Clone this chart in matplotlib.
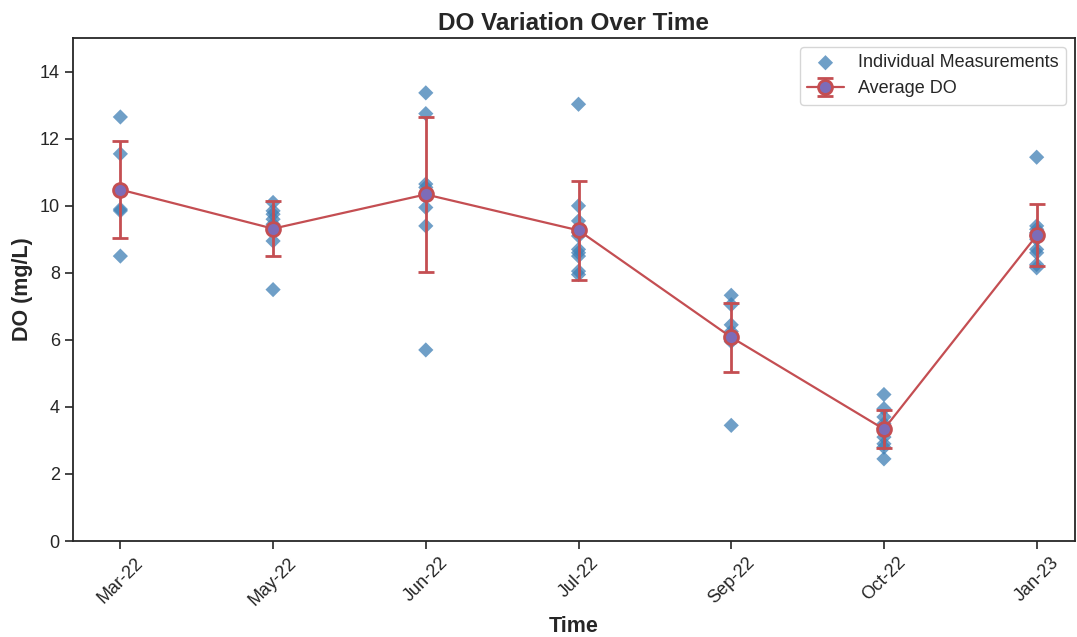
import matplotlib
matplotlib.use("Agg")
import matplotlib.pyplot as plt
import numpy as np
import pandas as pd
import seaborn as sns

# sampling dates and the DO readings taken on each trip (mg/L)
months = ['Mar-22', 'May-22', 'Jun-22', 'Jul-22', 'Sep-22', 'Oct-22', 'Jan-23']
do_mar = [12.65, 11.55, 10.45, 9.9, 9.85, 8.5]
do_may = [10.1, 9.85, 9.75, 9.6, 9.45, 9.35, 8.95, 7.5]
do_jun = [13.37, 12.75, 10.65, 10.55, 10.35, 9.95, 9.4, 5.7]
do_jul = [13.03, 10.0, 9.55, 9.2, 9.1, 8.7, 8.6, 8.5, 8.05, 7.95]
do_sep = [7.33, 7.05, 6.45, 6.25, 6.15, 6.1, 6.05, 6.0, 5.95, 3.45]
do_oct = [4.37, 3.95, 3.7, 3.5, 3.35, 3.25, 3.1, 2.9, 2.8, 2.45]
do_jan = [11.45, 9.4, 9.3, 9.2, 9.1, 9.0, 8.7, 8.6, 8.25, 8.15]

readings = [do_mar, do_may, do_jun, do_jul, do_sep, do_oct, do_jan]
rows = [(m, v) for m, vals in zip(months, readings) for v in vals]
df = pd.DataFrame(rows, columns=['Time', 'DO'])
df['pos'] = df['Time'].map({m: i for i, m in enumerate(months)})

# mean and sample std per sampling trip
stats = df.groupby('pos')['DO'].agg(['mean', 'std']).reset_index()

sns.set_style('ticks')
plt.rcParams['font.family'] = ['Liberation Sans', 'DejaVu Sans']

fig = plt.figure(figsize=(10.77, 6.37), dpi=100)
ax = fig.add_axes([0.0678, 0.1507, 0.9302, 0.7893])

ax.scatter(df['pos'], df['DO'], marker='D', s=60, color='#3f7fb5', alpha=0.75,
           edgecolors='none', label='Individual Measurements', zorder=2)
ax.errorbar(stats['pos'], stats['mean'], yerr=stats['std'], color='#c44e52',
            marker='o', markersize=10, markerfacecolor='#7d6cb8',
            markeredgecolor='#c44e52', markeredgewidth=2, linewidth=1.6,
            elinewidth=2, capsize=6, capthick=2, label='Average DO', zorder=3)

ax.set_xticks(range(len(months)))
ax.set_xticklabels(months, rotation=45)
ax.set_xlim(-0.31, 6.25)
ax.set_ylim(0, 15)
ax.set_yticks(np.arange(0, 15, 2))
ax.tick_params(labelsize=13, length=6, width=1.2, colors='#262626')
for s in ax.spines.values():
    s.set_linewidth(1.3)
    s.set_color('#262626')

ax.set_title('DO Variation Over Time', fontsize=17.5, fontweight='bold', pad=6)
ax.set_xlabel('Time', fontsize=15.5, fontweight='bold', labelpad=5)
ax.set_ylabel('DO (mg/L)', fontsize=15.5, fontweight='bold', labelpad=5)
ax.legend(loc='upper right', fontsize=13, frameon=True)

fig.savefig('out.png', dpi=100)
